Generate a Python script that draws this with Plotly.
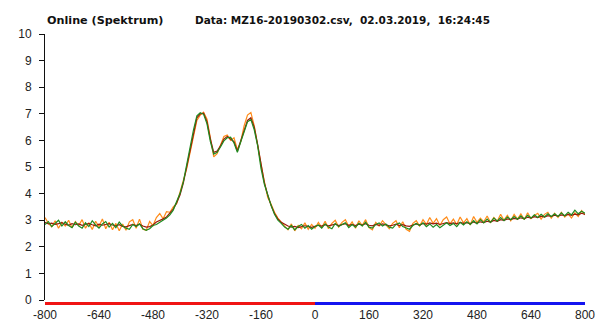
import plotly.graph_objects as go

# Spectrum sample positions (-800 .. 800, step 10)
x_pos = list(range(-800, 801, 10))

# Three spectrum scans
scan_orange = [
    3.10, 2.88, 2.75, 2.98, 2.70, 2.92, 2.78, 3.00, 2.72, 2.95,
    2.80, 3.02, 2.70, 2.90, 2.65, 2.96, 2.76, 3.05, 2.68, 2.92,
    2.64, 2.88, 2.60, 2.86, 2.62, 2.94, 3.02, 2.70, 3.04, 2.66,
    2.62, 2.95, 2.80,
    3.10, 3.25, 3.05, 3.32, 3.30, 3.50, 3.62, 4.05, 4.50, 4.95,
    5.55, 6.20, 6.75, 6.95, 7.06, 6.80, 6.00, 5.38, 5.50, 5.85,
    6.15, 6.20, 6.00, 6.10, 5.65, 5.95, 6.55, 6.95, 7.05, 6.55,
    5.75, 5.10, 4.45, 3.85, 3.60, 3.30, 3.08, 2.95,
    2.78, 2.64, 2.86, 2.60, 2.80, 2.68, 2.90, 2.66, 2.84, 2.70,
    2.92, 2.72, 2.96, 2.68, 2.88, 3.00, 2.74, 2.92, 3.02, 2.76,
    2.94, 2.70, 2.98, 2.80, 3.02, 2.72, 2.64, 2.92, 2.78, 2.98,
    2.84, 2.68, 2.88, 2.98, 2.72, 2.94, 2.66, 2.58, 2.88, 2.98,
    2.78, 3.02, 2.84, 3.10, 2.88, 3.06, 2.80, 3.02, 3.12, 2.86,
    3.04, 2.84, 3.12, 2.90, 3.06, 2.82, 3.14, 2.92, 3.08, 2.94,
    3.16, 2.92, 3.10, 2.96, 3.22, 3.00, 3.18, 2.98, 3.22, 3.04,
    3.24, 3.02, 3.28, 3.06, 3.18, 3.26, 3.04, 3.22, 3.30, 3.08,
    3.26, 3.10, 3.30, 3.12, 3.24, 3.08, 3.28, 3.14, 3.36, 3.20,
]

scan_darkred = [
    2.92, 2.86, 2.89, 2.84, 2.87, 2.91, 2.85, 2.81, 2.87, 2.83,
    2.86, 2.81, 2.84, 2.88, 2.83, 2.79, 2.85, 2.81, 2.84, 2.87,
    2.82, 2.79, 2.83, 2.77, 2.75, 2.81, 2.84, 2.80, 2.85, 2.78,
    2.74, 2.76, 2.82,
    2.93, 2.98, 3.05, 3.12, 3.25, 3.42, 3.65, 3.95, 4.40, 5.00,
    5.65, 6.30, 6.85, 7.00, 7.02, 6.70, 6.05, 5.55, 5.60, 5.80,
    6.05, 6.15, 6.05, 5.95, 5.60, 6.00, 6.40, 6.75, 6.85, 6.50,
    5.85, 5.05, 4.40, 3.95, 3.55, 3.25, 3.05, 2.92,
    2.84, 2.78, 2.74, 2.77, 2.72, 2.75, 2.79, 2.76, 2.73, 2.77,
    2.81, 2.78, 2.83, 2.79, 2.81, 2.85, 2.80, 2.83, 2.87, 2.81,
    2.84, 2.80, 2.85, 2.82, 2.87, 2.81, 2.79, 2.84, 2.81, 2.86,
    2.83, 2.79, 2.81, 2.85, 2.80, 2.83, 2.79, 2.77, 2.82, 2.86,
    2.82, 2.88, 2.85, 2.90, 2.86, 2.89, 2.84, 2.88, 2.91, 2.87,
    2.90, 2.86, 2.92, 2.88, 2.91, 2.87, 2.93, 2.89, 2.94, 2.91,
    2.96, 2.93, 2.99, 2.96, 3.02, 2.99, 3.05, 3.02, 3.07, 3.04,
    3.09, 3.06, 3.11, 3.08, 3.13, 3.10, 3.15, 3.12, 3.17, 3.14,
    3.19, 3.15, 3.20, 3.17, 3.22, 3.18, 3.23, 3.20, 3.26, 3.22,
]

scan_green = [
    2.84, 2.95, 2.76, 2.90, 3.00, 2.78, 2.94, 2.80, 2.72, 2.92,
    2.78, 2.70, 2.90, 2.76, 2.98, 2.82, 2.70, 2.86, 2.95, 2.74,
    2.88, 2.72, 2.93, 2.78, 2.70, 2.66, 2.84, 2.76, 2.86, 2.68,
    2.62, 2.68, 2.80,
    2.84, 2.92, 3.02, 3.08, 3.20, 3.38, 3.70, 4.00, 4.45, 5.05,
    5.75, 6.40, 6.92, 7.04, 6.98, 6.62, 5.95, 5.48, 5.55, 5.75,
    5.98, 6.10, 6.12, 5.90, 5.55, 5.95, 6.35, 6.70, 6.78, 6.40,
    5.80, 4.95, 4.35, 3.90, 3.55, 3.22, 3.00, 2.88,
    2.74, 2.66, 2.80, 2.64, 2.76, 2.84, 2.70, 2.80, 2.66, 2.76,
    2.82, 2.70, 2.86, 2.74, 2.68, 2.88, 2.76, 2.84, 2.90, 2.72,
    2.84, 2.74, 2.88, 2.78, 2.92, 2.74, 2.70, 2.84, 2.90, 2.78,
    2.86, 2.74, 2.70, 2.84, 2.90, 2.76, 2.72, 2.66, 2.80, 2.88,
    2.80, 2.90, 2.76, 2.86, 2.74, 2.84, 2.72, 2.80, 2.90, 2.80,
    2.88, 2.76, 2.92, 2.82, 2.94, 2.84, 2.98, 2.86, 3.02, 2.90,
    3.04, 2.92, 3.08, 2.96, 3.10, 2.98, 3.12, 3.02, 3.14, 3.04,
    3.16, 3.04, 3.18, 3.08, 3.20, 3.10, 3.22, 3.12, 3.24, 3.14,
    3.24, 3.14, 3.28, 3.16, 3.30, 3.20, 3.38, 3.24, 3.34, 3.26,
]

x_ticks = [-800, -640, -480, -320, -160, 0, 160, 320, 480, 640, 800]
x_tick_text = ["-800", "-640", "-480", "-320", "-160", "0", "160", "320", "480", "640", "800"]
y_ticks = list(range(0, 11))

title_left = "Online (Spektrum)"
title_right = "Data: MZ16-20190302.csv,\u00a0\u00a002.03.2019,\u00a0\u00a016:24:45"

FONT = "Liberation Sans, Arial, sans-serif"
TITLE_FONT = "DejaVu Sans, Verdana, sans-serif"

fig = go.Figure()
for ys, col in [(scan_orange, "#ff8c1a"), (scan_darkred, "#9a1a0a"), (scan_green, "#1f8a1f")]:
    fig.add_trace(go.Scatter(x=x_pos, y=ys, mode="lines",
                             line=dict(color=col, width=1.2), hoverinfo="skip"))

# two-colour baseline bar under the x range (negative / positive side)
fig.add_shape(type="line", xref="x", yref="paper", x0=-800, x1=0, y0=-0.013, y1=-0.013,
              line=dict(color="#f01414", width=3))
fig.add_shape(type="line", xref="x", yref="paper", x0=0, x1=800, y0=-0.013, y1=-0.013,
              line=dict(color="#1414f0", width=3))

fig.add_annotation(text="<b>%s</b>" % title_left, xref="paper", yref="paper",
                   x=0, y=1.0508, xanchor="left", yanchor="middle", showarrow=False,
                   font=dict(family=TITLE_FONT, size=11.2, color="#111"))
fig.add_annotation(text="<b>%s</b>" % title_right, xref="paper", yref="paper",
                   x=0.274, y=1.0508, xanchor="left", yanchor="middle", showarrow=False,
                   font=dict(family=TITLE_FONT, size=10.5, color="#111"))

fig.update_layout(
    width=601, height=323, autosize=False,
    margin=dict(l=45, r=16, t=34, b=23),
    paper_bgcolor="white", plot_bgcolor="white",
    showlegend=False,
    font=dict(family=FONT, size=12, color="#222"),
)
fig.update_xaxes(range=[-800, 800], tickvals=x_ticks, ticktext=x_tick_text,
                 showline=False, showgrid=False, automargin=False,
                 zeroline=False, ticks="", ticklabelstandoff=6,
                 tickfont=dict(family=FONT, size=12, color="#222"))
fig.update_yaxes(range=[0, 10], tickvals=y_ticks, showline=True, linecolor="#111",
                 linewidth=1, ticks="outside", ticklen=5, tickcolor="#111",
                 showgrid=False, zeroline=False, ticklabelstandoff=5, automargin=False,
                 tickfont=dict(family=FONT, size=12, color="#222"))

fig.write_html("out.html")
